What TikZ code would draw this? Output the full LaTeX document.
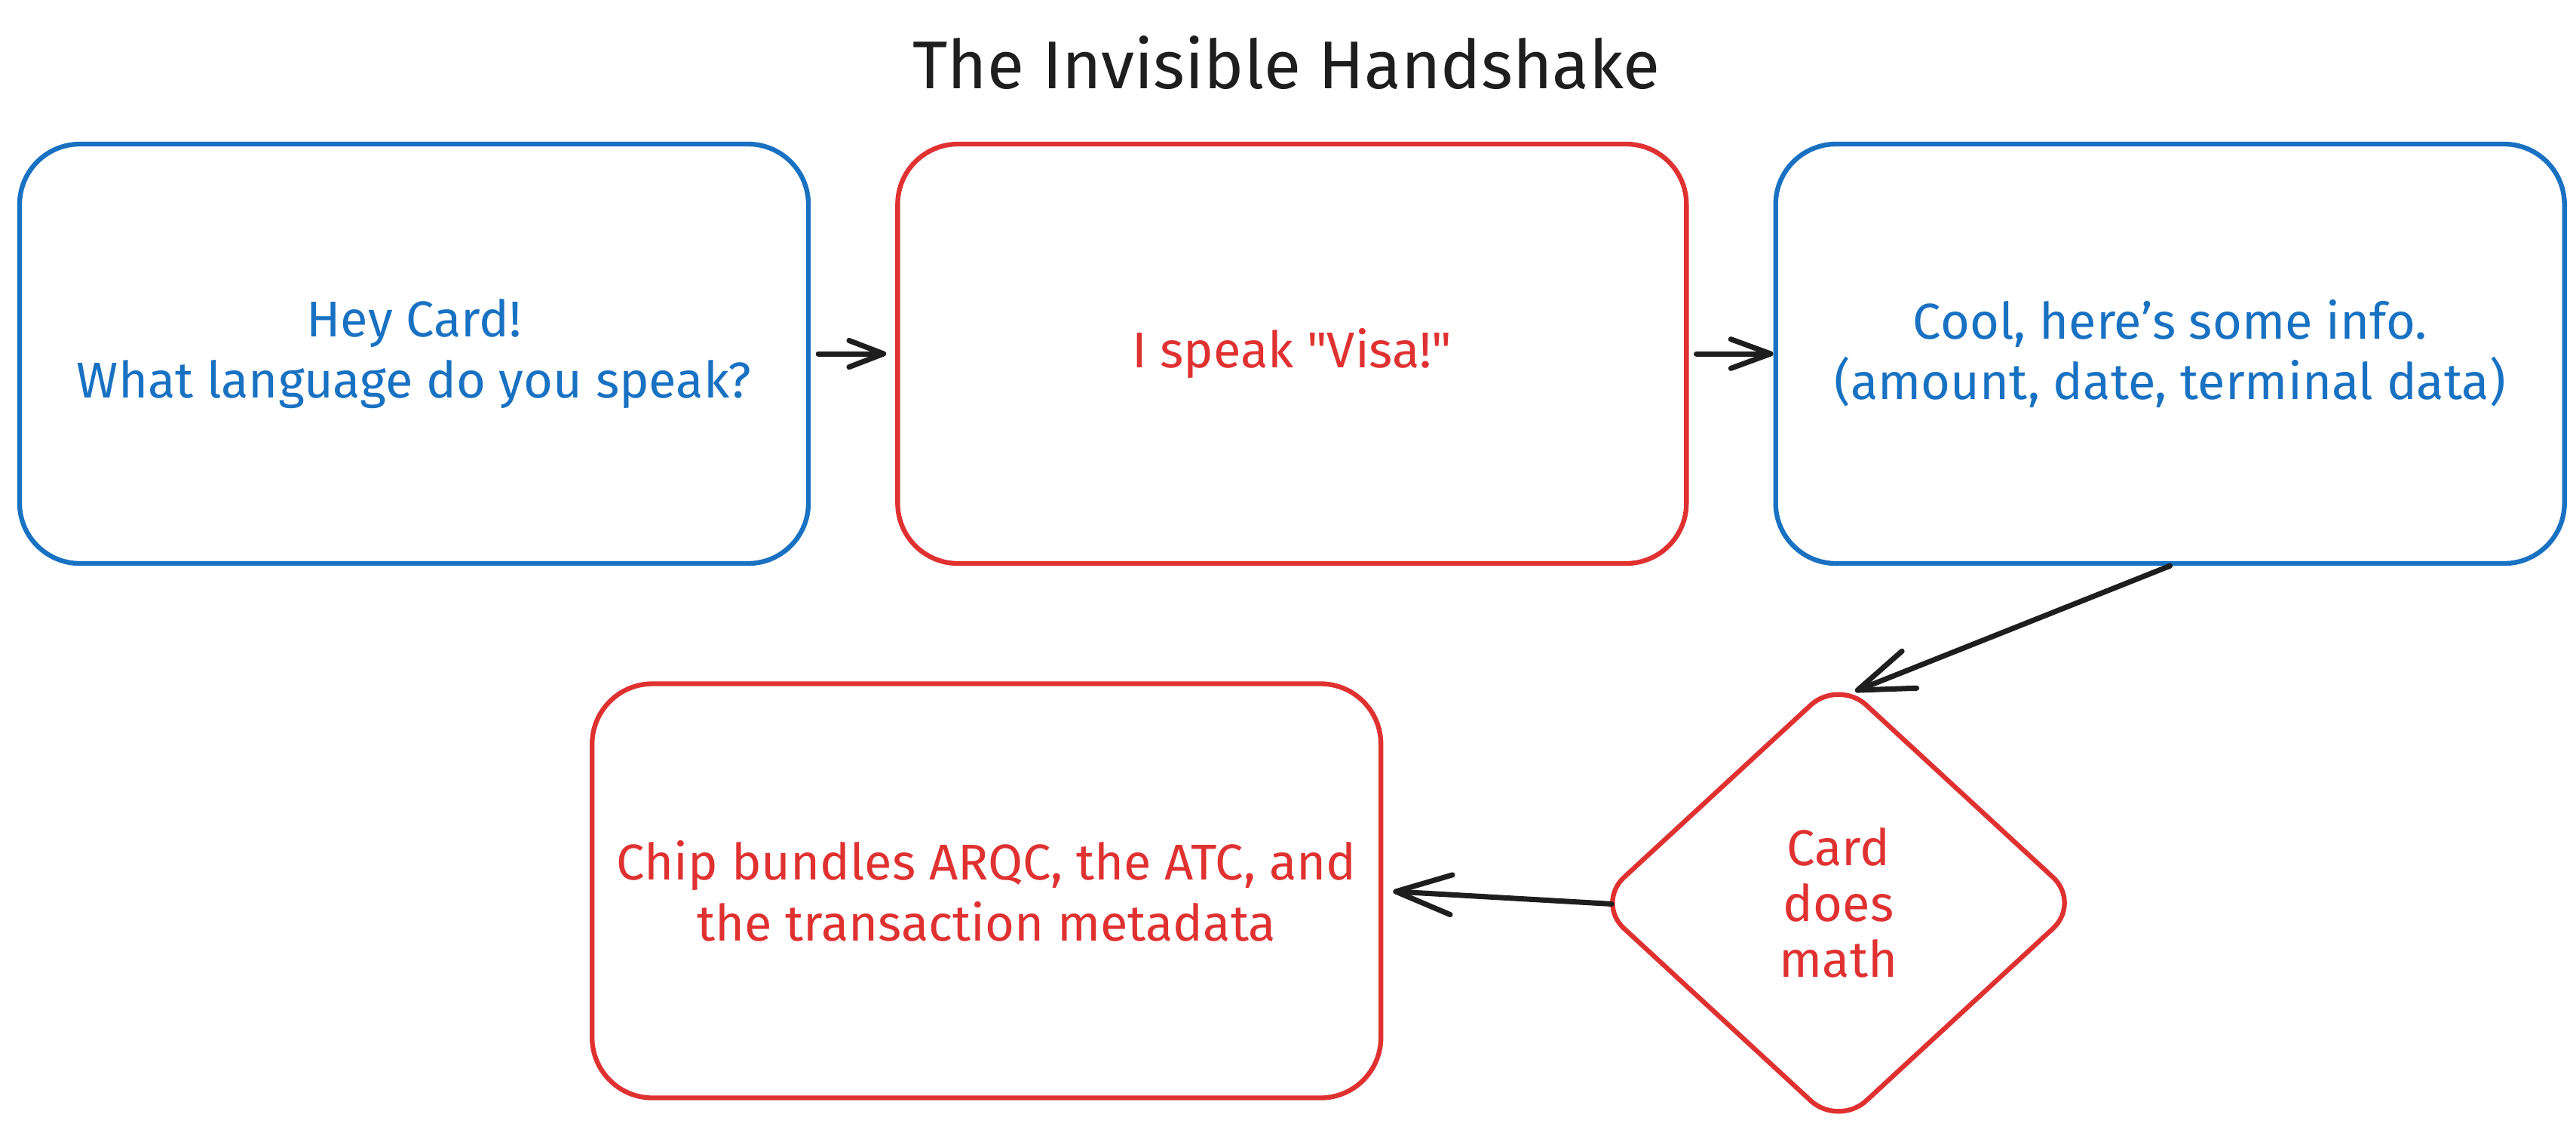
\documentclass[tikz,border=0pt]{standalone}
\usepackage{fontspec}
\setmainfont{Fira Sans}
\usetikzlibrary{arrows.meta,positioning,shapes.geometric}

\definecolor{exblue}{HTML}{1971C2}
\definecolor{exred}{HTML}{E03131}
\definecolor{exink}{HTML}{1E1E1E}

\begin{document}
\begin{tikzpicture}[node distance=1.12cm,
  box/.style={draw, line width=1.8pt, rounded corners=0.8cm, align=center, minimum width=10.46cm, minimum height=5.56cm, font=\fontsize{19}{23}\selectfont},
  bluebox/.style={box, draw=exblue, text=exblue},
  redbox/.style={box, draw=exred, text=exred},
  flow/.style={draw=exink, line width=2pt, line cap=round, -{Straight Barb[round, length=13pt, width=10pt]}},
  bigflow/.style={flow, -{Straight Barb[round, length=21pt, width=15pt]}}]

\fill[white] (0,0) rectangle (34.16,-15.17);
\useasboundingbox (0,0) rectangle (34.16,-15.17);

\node[font=\fontsize{25.5}{30}\selectfont, text=exink] (title) at (17.06,-0.83) {The Invisible Handshake};
\node[bluebox] (hello) at (5.49,-4.69) {Hey Card!\\What language do you speak?};
\node[redbox, right=of hello] (visa) {I speak \textquotedbl Visa!\textquotedbl};
\node[bluebox, right=of visa] (info) {Cool, here's some info.\\(amount, date, terminal data)};
\node[diamond, draw=exred, text=exred, line width=1.8pt, rounded corners=0.5cm, minimum width=6.45cm, minimum height=5.95cm, align=center, font=\fontsize{19}{21}\selectfont] (math) at (24.38,-11.97) {Card\\does\\math};
\node[redbox, minimum height=5.49cm, left=2.78cm of math, yshift=0.16cm] (arqc) {Chip bundles ARQC, the ATC, and\\the transaction metadata};

\draw[flow, shorten <=0.1cm, shorten >=0.12cm] (hello.east) -- (visa.west);
\draw[flow, shorten <=0.1cm, -{Straight Barb[round, length=15pt, width=11pt]}] (visa.east) -- (info.west);
\draw[bigflow] (info.south) -- ([xshift=0.22cm, yshift=-0.2cm]math.north);
\draw[bigflow, shorten <=-0.25cm, shorten >=0.13cm] (math.west) -- (arqc.east);
\end{tikzpicture}
\end{document}
